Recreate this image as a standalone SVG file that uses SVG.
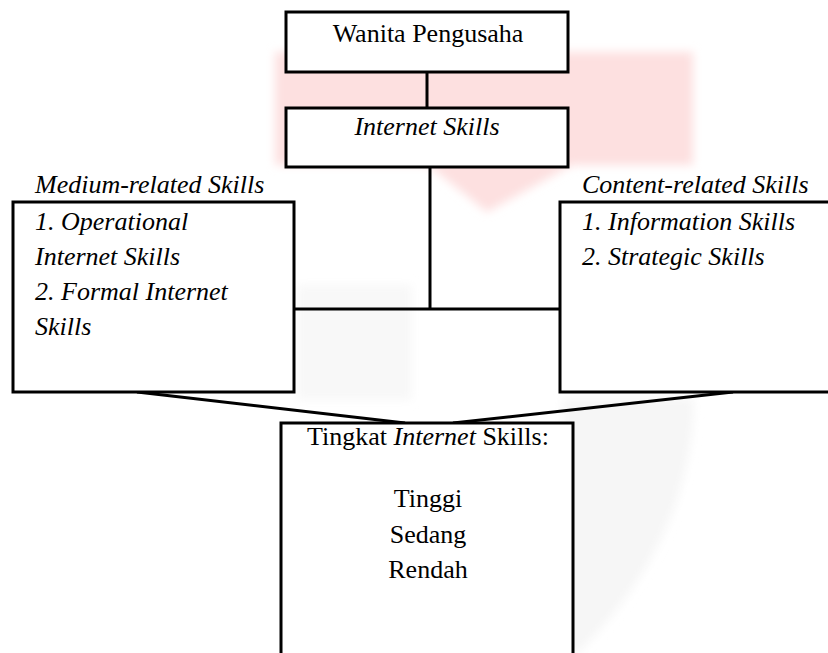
<svg xmlns="http://www.w3.org/2000/svg" width="828" height="653" viewBox="0 0 828 653">
  <defs>
    <filter id="soft" x="-10%" y="-10%" width="120%" height="120%">
      <feGaussianBlur stdDeviation="5"/>
    </filter>
  </defs>
  <style>
    .box { fill: #ffffff; stroke: #000000; stroke-width: 3; }
    .line { fill: none; stroke: #000000; stroke-width: 3; }
    .t { font-family: "Liberation Serif", "Times New Roman", serif; font-size: 26px; fill: #000000; }
    .i { font-style: italic; }
    .c { text-anchor: middle; }
  </style>
  <rect width="828" height="653" fill="#ffffff"/>
  <g id="watermark" filter="url(#soft)">
    <path d="M275,52 L693,52 L693,165 L572,165 L487,212 L428,165 L275,165 Z" fill="#fde0e0"/>
    <path d="M297,285 L412,285 L412,400 L297,400 Z" fill="#f8f8f8"/>
    <path d="M562,398 L694,398 Q692,540 578,653 L562,653 Z" fill="#f6f6f6"/>
  </g>
  <g id="connectors">
    <line class="line" x1="427" y1="72" x2="427" y2="108"/>
    <line class="line" x1="430" y1="167" x2="430" y2="309"/>
    <line class="line" x1="294" y1="309" x2="560" y2="309"/>
    <line class="line" x1="137" y1="392" x2="405" y2="423"/>
    <line class="line" x1="453" y1="423" x2="733" y2="392"/>
  </g>
  <g id="wanita">
    <rect class="box" x="286" y="12" width="282" height="60"/>
    <text class="t c" x="428" y="42">Wanita Pengusaha</text>
  </g>
  <g id="internet">
    <rect class="box" x="286" y="108" width="282" height="59"/>
    <text class="t i c" x="427" y="135">Internet Skills</text>
  </g>
  <g id="medium">
    <text class="t i" x="35" y="193">Medium-related Skills</text>
    <rect class="box" x="13" y="202" width="281" height="190"/>
    <text class="t i" x="35" y="230">1. Operational</text>
    <text class="t i" x="35" y="265">Internet Skills</text>
    <text class="t i" x="35" y="300">2. Formal Internet</text>
    <text class="t i" x="35" y="335">Skills</text>
  </g>
  <g id="content">
    <text class="t i" x="582" y="193">Content-related Skills</text>
    <rect class="box" x="560" y="202" width="272" height="190"/>
    <text class="t i" x="582" y="230">1. Information Skills</text>
    <text class="t i" x="582" y="265">2. Strategic Skills</text>
  </g>
  <g id="tingkat">
    <rect class="box" x="281" y="423" width="292" height="240"/>
    <text class="t c" x="428" y="445">Tingkat <tspan class="i">Internet</tspan> Skills:</text>
    <text class="t c" x="428" y="507">Tinggi</text>
    <text class="t c" x="428" y="543">Sedang</text>
    <text class="t c" x="428" y="578">Rendah</text>
  </g>
</svg>
